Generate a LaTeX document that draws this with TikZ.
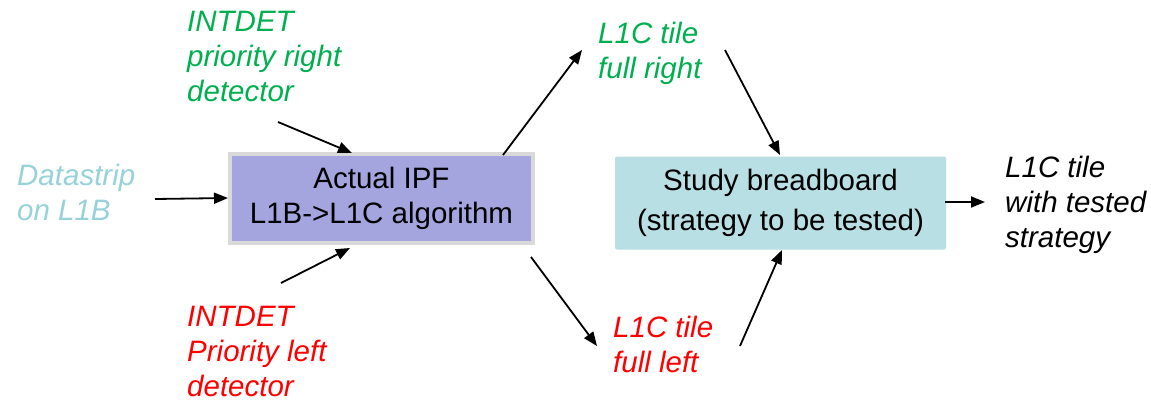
\documentclass[tikz,border=0pt]{standalone}
\usepackage{fontspec}
\setmainfont{Liberation Sans}
\usetikzlibrary{arrows.meta}
\definecolor{tgreen}{HTML}{00B050}
\definecolor{tred}{HTML}{FF0000}
\definecolor{tteal}{HTML}{96D2D9}
\definecolor{boxA}{HTML}{A4A4DE}
\definecolor{boxAline}{HTML}{D9D9D9}
\definecolor{boxB}{HTML}{B8DFE3}
\begin{document}
\begin{tikzpicture}[x=1pt,y=-1pt,
  lbl/.style={anchor=north west, inner sep=0pt, align=left, font=\fontsize{29.5}{35}\selectfont\itshape},
  conn/.style={line width=1.8pt, -{Triangle[length=14pt,width=11pt]}},
  boxone/.style={draw=boxAline, line width=4pt, fill=boxA, minimum width=303pt, minimum height=89pt, inner sep=0pt, align=center, font=\fontsize{29.5}{35}\selectfont},
  boxtwo/.style={fill=boxB, rounded corners=2pt, minimum width=331pt, minimum height=93pt, inner sep=0pt, align=center, font=\fontsize{29.5}{40}\selectfont}]
\useasboundingbox (0,0) rectangle (1151,402);
\fill[white] (0,0) rectangle (1151,402);

\node[boxone] (b1) at (381.5,198.5) {Actual IPF\\L1B->L1C algorithm};
\node[boxtwo] (b2) at (780.5,203) {Study breadboard\\(strategy to be tested)};

\node[lbl, text=tteal] (ds) at (17,163.5) {Datastrip\\on L1B};
\node[lbl, text=tgreen] (ir) at (187,11.5) {INTDET\\priority right\\detector};
\node[lbl, text=tred] (il) at (187,305.5) {INTDET\\Priority left\\detector};
\node[lbl, text=tgreen] (tr) at (598,21.5) {L1C tile\\full right};
\node[lbl, text=tred] (tl) at (613,315.5) {L1C tile\\full left};
\node[lbl, text=black] (out) at (1005,155.5) {L1C tile\\with tested\\strategy};

\coordinate (dsA) at (155,199);  \coordinate (dsB) at (228,198);
\coordinate (irA) at (278,122);  \coordinate (irB) at (352,153);
\coordinate (ilA) at (281,283);  \coordinate (ilB) at (350,248);
\coordinate (trA) at (503,155);  \coordinate (trB) at (582,50);
\coordinate (trC) at (725,50);   \coordinate (trD) at (780,155);
\coordinate (tlA) at (531,257);  \coordinate (tlB) at (597,346);
\coordinate (tlC) at (740,346);  \coordinate (tlD) at (782,250);
\coordinate (oA) at (945,202);   \coordinate (oB) at (985,202);

\draw[conn] (dsA) -- (dsB);
\draw[conn] (irA) -- (irB);
\draw[conn] (ilA) -- (ilB);
\draw[conn] (trA) -- (trB);
\draw[conn] (trC) -- (trD);
\draw[conn] (tlA) -- (tlB);
\draw[conn] (tlC) -- (tlD);
\draw[conn] (oA) -- (oB);
\end{tikzpicture}
\end{document}
